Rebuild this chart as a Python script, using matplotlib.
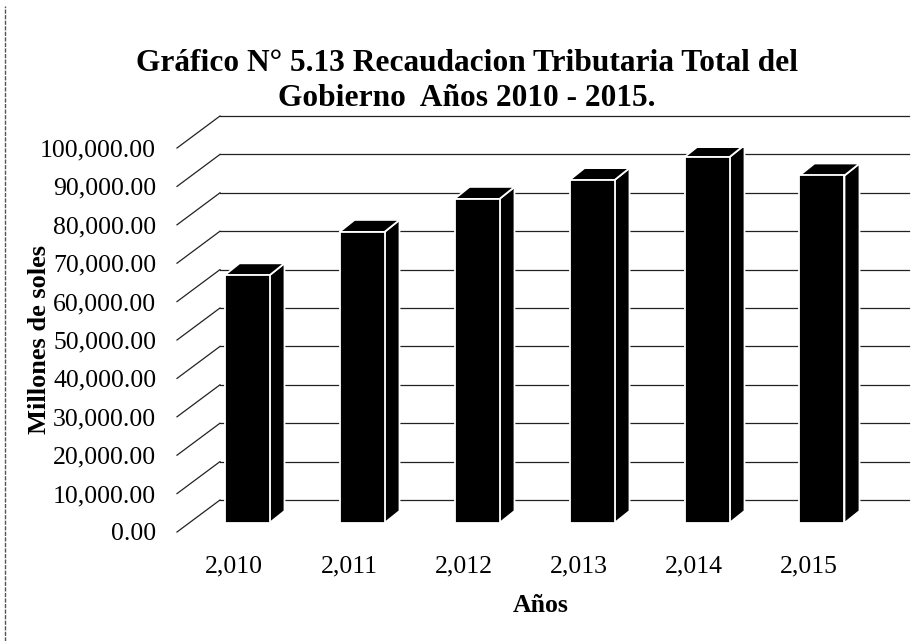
import matplotlib
matplotlib.use("Agg")
import matplotlib.pyplot as plt
from matplotlib.patches import Polygon
from matplotlib.lines import Line2D
import numpy as np

# ---- data ----
years = ["2,010", "2,011", "2,012", "2,013", "2,014", "2,015"]
values = [64500, 75800, 84400, 89300, 95300, 90500]
yticks = [0, 10000, 20000, 30000, 40000, 50000, 60000, 70000, 80000, 90000, 100000]
ytick_labels = ["0.00", "10,000.00", "20,000.00", "30,000.00", "40,000.00", "50,000.00",
                "60,000.00", "70,000.00", "80,000.00", "90,000.00", "100,000.00"]
title = "Gráfico N° 5.13 Recaudacion Tributaria Total del\nGobierno  Años 2010 - 2015."
xlabel = "Años"
ylabel = "Millones de soles"

plt.rcParams['font.family'] = ['Liberation Serif', 'DejaVu Serif']

W, H = 916, 641
fig = plt.figure(figsize=(W / 100, H / 100), dpi=100)
fig.patch.set_facecolor("white")

ax_l, ax_r, ax_top, ax_bot = 177, 905, 148, 532
ax = fig.add_axes([ax_l / W, (H - ax_bot) / H, (ax_r - ax_l) / W, (ax_bot - ax_top) / H])
ax.set_facecolor("none")

x = np.arange(len(years))
xmin = (ax_l - 234) / 115.0
xmax = (ax_r - 234) / 115.0
ax.set_xlim(xmin, xmax)
ax.set_ylim(0, 100000)

sx = (xmax - xmin) / (ax_r - ax_l)      # data units per pixel (x)
sy = 100000.0 / (ax_bot - ax_top)       # data units per pixel (y)

# depth offsets (pixels -> data)
back_dx, back_dy = 43 * sx, 32 * sy      # back wall
front_dx, front_dy = 13 * sx, 9 * sy     # bar front face
depth_dx, depth_dy = 15 * sx, 12 * sy    # bar depth
bar_w = 45 * sx

# gridlines on side + back walls
grid_kw = dict(color="#222222", lw=0.9, clip_on=False, zorder=1)
for v in yticks:
    ax.plot([xmin, xmin + back_dx], [v, v + back_dy], **grid_kw)
    ax.plot([xmin + back_dx, xmax + 4 * sx], [v + back_dy, v + back_dy], **grid_kw)

# bars
bars = ax.bar(x + front_dx, values, width=bar_w, bottom=front_dy,
              color="black", edgecolor="white", linewidth=1.3, zorder=3)
for xi, v in zip(x, values):
    xl = xi + front_dx - bar_w / 2
    xr = xi + front_dx + bar_w / 2
    yb = front_dy
    yt = front_dy + v
    side = Polygon([(xr, yb), (xr + depth_dx, yb + depth_dy),
                    (xr + depth_dx, yt + depth_dy), (xr, yt)],
                   closed=True, facecolor="black", edgecolor="white", lw=1.3, zorder=2.5)
    top = Polygon([(xl, yt), (xr, yt), (xr + depth_dx, yt + depth_dy), (xl + depth_dx, yt + depth_dy)],
                  closed=True, facecolor="black", edgecolor="white", lw=1.3, zorder=2.6)
    ax.add_patch(side)
    ax.add_patch(top)

ax.set_yticks(yticks)
ax.set_yticklabels(ytick_labels, fontsize=18.5)
ax.set_xticks(x)
ax.set_xticklabels(years, fontsize=18.5)
ax.tick_params(axis="y", length=0, pad=15)
ax.tick_params(axis="x", length=0, pad=17)
for s in ax.spines.values():
    s.set_visible(False)

ax.set_xlabel(xlabel, fontsize=18.5, fontweight="bold", labelpad=12)
ax.set_ylabel(ylabel, fontsize=19, fontweight="bold", labelpad=-8)

fig.text(0.51, 1 - 81 / H, title, ha="center", va="center", fontsize=22.6,
         fontweight="bold", linespacing=1.28)

# scan border artifact on the left
fig.add_artist(Line2D([5 / W, 5 / W], [0, 0.99], color="#555555", lw=1.0,
                      linestyle=(0, (3, 1))))

fig.savefig("out.png", dpi=100)
